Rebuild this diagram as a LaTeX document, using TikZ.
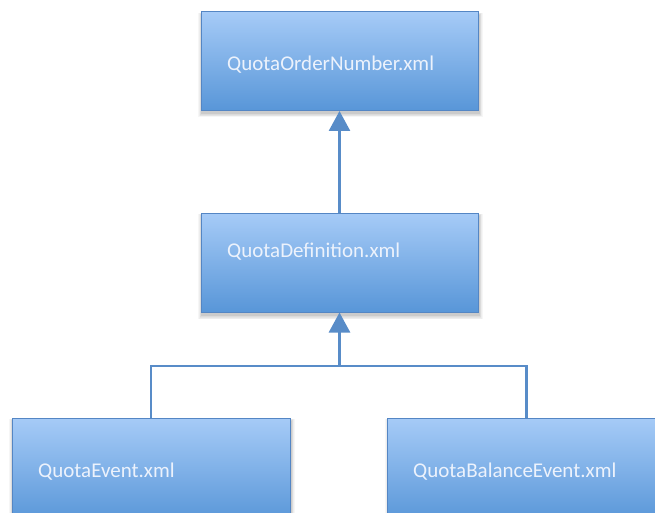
\documentclass[tikz,border=0pt]{standalone}
\usepackage{fontspec}
\setmainfont{Carlito}
\usetikzlibrary{arrows.meta}
\definecolor{boxtop}{RGB}{166,203,247}
\definecolor{boxbot}{RGB}{88,150,216}
\definecolor{boxline}{RGB}{84,134,196}
\definecolor{conn}{RGB}{88,140,200}
\definecolor{txt}{RGB}{236,242,252}
\tikzset{
  xmlbox/.style={rectangle, draw=boxline, line width=1pt, top color=boxtop, bottom color=boxbot, minimum height=99pt, inner sep=0pt},
  lbl/.style={anchor=west, text=txt, font=\fontsize{21}{24}\selectfont, inner sep=0pt},
  conn/.style={draw=conn, line width=2.6pt},
  arr/.style={conn, -{Triangle[width=21pt,length=20pt]}}
}
\newcommand{\softshadow}[4]{%
  \foreach \d in {1,...,6}{
    \fill[black, opacity=0.035] (#1-\d*0.6+1,#2-\d*0.4+3) rectangle (#3+\d*0.6+1,#4+\d*0.7+3);
  }}
\begin{document}
\begin{tikzpicture}[x=1pt,y=-1pt]
\clip (0,0) rectangle (655,513);
\fill[white] (0,0) rectangle (655,513);
% shadows
\softshadow{201}{12}{478}{110}
\softshadow{201}{213}{478}{312}
\softshadow{12}{418}{290}{522}
\softshadow{388}{418}{665}{522}
% boxes
\node[xmlbox, minimum width=277pt] (top) at (339.5,61) {};
\node[xmlbox, minimum width=277pt] (mid) at (339.5,262.5) {};
\node[xmlbox, minimum width=278pt, minimum height=104pt] (bl) at (151,470) {};
\node[xmlbox, minimum width=278pt, minimum height=104pt] (br) at (526.5,470) {};
% labels
\node[lbl] (ttop) at (227,65) {QuotaOrderNumber.xml};
\node[lbl] (tmid) at (227,252) {QuotaDefinition.xml};
\node[lbl] (tbl) at (38,472) {QuotaEvent.xml};
\node[lbl] (tbr) at (413,472) {QuotaBalanceEvent.xml};
% connectors
\coordinate (j) at (339.5,366);
\draw[arr] (mid.north) -- (top.south);
\draw[conn] (bl.north) |- (j) -| (br.north);
\draw[arr] (j) -- (mid.south);
\end{tikzpicture}
\end{document}
